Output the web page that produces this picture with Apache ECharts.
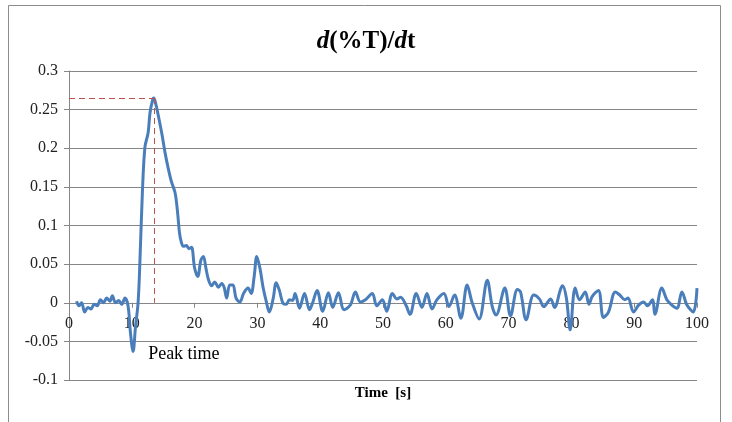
<!DOCTYPE html>
<html>
<head>
<meta charset="utf-8">
<script src="https://cdn.jsdelivr.net/npm/echarts@6/dist/echarts.min.js"></script>
<style>html,body{margin:0;padding:0;background:#fff}#c{width:732px;height:422px}</style>
</head>
<body>
<div id="c"></div>
<script>
var times = [1.2,1.6,2.0,2.5,3.0,3.5,4.0,4.5,5.0,5.5,6.0,6.5,6.9,7.4,7.9,8.4,8.9,9.4,9.8,10.2,10.6,11.0,11.3,11.7,12.1,12.6,12.9,13.3,13.5,13.8,14.2,14.8,15.3,15.8,16.3,16.9,17.3,17.6,17.9,18.2,18.7,19.1,19.5,20.0,20.5,21.0,21.4,21.8,22.2,22.7,23.2,23.8,24.3,24.7,25.1,25.6,26.1,26.6,27.2,27.8,28.5,29.0,29.5,29.9,30.4,30.9,31.4,31.9,32.5,33.0,33.5,34.1,34.6,35.1,35.6,36.0,36.7,37.5,38.3,38.8,39.5,40.4,41.3,42.0,42.9,43.8,44.8,45.6,46.4,47.2,48.3,49.0,49.9,50.6,51.5,52.2,52.8,53.7,54.3,55.3,56.2,57.0,57.8,58.6,59.7,60.5,61.4,62.4,63.4,64.2,65.3,66.6,67.4,68.0,69.4,70.3,71.4,71.9,72.8,74.0,74.9,75.6,76.7,77.3,78.3,78.6,79.2,79.8,80.6,81.3,82.2,82.8,83.3,84.3,85.1,85.9,87.0,87.7,88.5,89.0,89.9,90.7,91.5,92.1,92.9,93.3,94.4,95.2,96.0,96.8,97.6,98.4,99.4,100.0];
var values = [0.002,-0.004,0.0,-0.012,-0.006,-0.008,-0.002,-0.004,0.004,0.0,0.006,0.002,0.009,0.0,0.003,-0.002,0.006,-0.004,-0.04,-0.063,-0.03,0.0,0.055,0.146,0.202,0.22,0.246,0.262,0.265,0.258,0.243,0.218,0.194,0.174,0.157,0.142,0.116,0.09,0.078,0.073,0.074,0.070,0.072,0.045,0.034,0.055,0.060,0.045,0.03,0.022,0.027,0.020,0.025,0.02,0.006,0.023,0.023,0.006,0.001,0.012,0.019,0.012,0.035,0.06,0.045,0.02,0.002,-0.012,0.005,0.026,0.016,-0.001,-0.002,0.004,0.003,0.012,-0.007,0.012,-0.009,0.0,0.016,-0.011,0.013,-0.006,0.013,-0.009,-0.003,0.014,0.001,0.004,0.012,-0.004,0.004,-0.011,0.012,0.005,0.007,-0.004,-0.015,0.012,-0.006,0.012,-0.008,0.004,0.012,-0.005,0.01,-0.02,0.023,0.0,-0.021,0.029,-0.005,-0.016,0.019,-0.017,0.017,0.014,-0.022,0.010,0.005,-0.005,0.005,-0.006,0.018,0.022,0.006,-0.035,0.019,0.004,0.014,-0.002,0.008,0.016,-0.019,-0.012,0.014,0.010,0.004,0.006,-0.012,-0.003,0.001,-0.004,0.004,-0.015,0.019,0.004,-0.003,-0.007,0.014,-0.003,-0.012,0.019];
var peakTime = 13.5;
var peakValue = 0.265;
var xTicks = {min: 0, max: 100, interval: 10};
var yTicks = {min: -0.1, max: 0.3, interval: 0.05};

var serif = '"Liberation Serif", "Times New Roman", serif';
var data = times.map(function (t, i) { return [t, values[i]]; });
var chart = echarts.init(document.getElementById('c'));
chart.setOption({
  animation: false,
  backgroundColor: '#fff',
  title: {
    text: '{i|d}{n|(%T)/}{i|d}{n|t}',
    left: 'center',
    top: 24,
    textStyle: {
      rich: {
        i: {fontFamily: serif, fontSize: 25, fontWeight: 'bold', fontStyle: 'italic', color: '#000'},
        n: {fontFamily: serif, fontSize: 25, fontWeight: 'bold', color: '#000'}
      }
    }
  },
  grid: {left: 69, right: 35, top: 71, bottom: 42},
  xAxis: {
    type: 'value', min: xTicks.min, max: xTicks.max, interval: xTicks.interval,
    axisLine: {onZero: true, lineStyle: {color: '#868686', width: 1}},
    axisTick: {show: true, length: 5, inside: false, lineStyle: {color: '#868686'}},
    axisLabel: {fontFamily: serif, fontSize: 16, color: '#222', margin: -64},
    splitLine: {show: false}
  },
  yAxis: {
    type: 'value', min: yTicks.min, max: yTicks.max, interval: yTicks.interval,
    axisLine: {show: true, lineStyle: {color: '#868686', width: 1}},
    axisTick: {show: true, length: 5, lineStyle: {color: '#868686'}},
    axisLabel: {fontFamily: serif, fontSize: 16, color: '#222', margin: 11},
    splitLine: {show: true, lineStyle: {color: '#868686', width: 1}}
  },
  graphic: [
    {type: 'rect', shape: {x: 8.5, y: 5.5, width: 712, height: 430}, style: {fill: 'none', stroke: '#8c8c8c', lineWidth: 1}, z: -10},
    {type: 'text', x: 383, y: 393, style: {text: 'Time  [s]', font: 'bold 15px ' + serif, fill: '#000', align: 'center', verticalAlign: 'middle'}}
  ],
  series: [{
    type: 'line',
    data: data,
    showSymbol: false,
    smooth: 0.35,
    lineStyle: {color: '#4a7ebb', width: 3},
    itemStyle: {color: '#4a7ebb'},
    markLine: {
      silent: true,
      symbol: 'none',
      label: {show: false},
      lineStyle: {color: '#c0504d', type: [6, 4], width: 1},
      data: [
        [{coord: [0, peakValue]}, {coord: [peakTime, peakValue]}],
        [{coord: [peakTime, peakValue]}, {coord: [peakTime, 0]}]
      ]
    },
    markPoint: {
      silent: true,
      symbol: 'circle',
      symbolSize: 0,
      data: [{coord: [12.6, -0.067]}],
      label: {show: true, position: 'right', distance: 0, formatter: 'Peak time', fontFamily: serif, fontSize: 18, color: '#000'}
    }
  }]
});
</script>
</body>
</html>
